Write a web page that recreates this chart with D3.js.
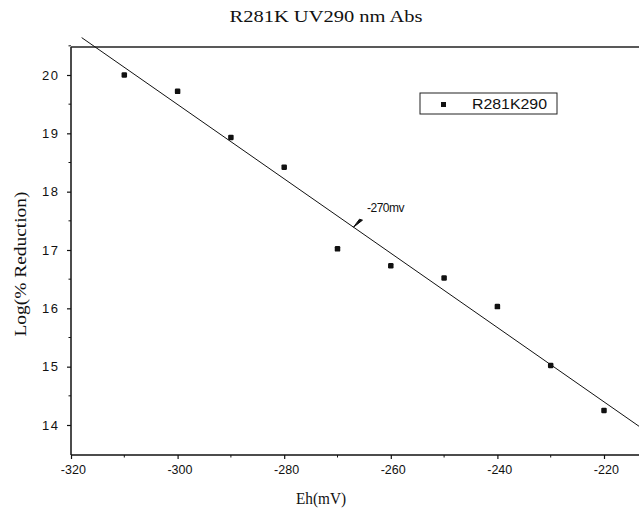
<!DOCTYPE html>
<html><head><meta charset="utf-8">
<script src="https://cdn.jsdelivr.net/npm/d3@7"></script>
<style>html,body{margin:0;padding:0;background:#fff;overflow:hidden}</style>
</head><body>
<svg id="c" width="639" height="515"></svg>
<script>
const ehValues = [-310, -300, -290, -280, -270, -260, -250, -240, -230, -220];
const logReduction = [20.0, 19.72, 18.93, 18.42, 17.02, 16.73, 16.52, 16.03, 15.02, 14.25];
const xTicks = [-320, -300, -280, -260, -240, -220];
const yTicks = [14, 15, 16, 17, 18, 19, 20];
const seriesName = "R281K290";
const annotationText = "-270mv";
const annotationX = -270;

const svg = d3.select("#c");
const x = d3.scaleLinear().domain([-320, -220]).range([71, 604]);
const y = d3.scaleLinear().domain([14, 20]).range([425, 75]);
const xMin = -320, xMax = x.invert(639);
const yMin = y.invert(455), yMax = y.invert(47);
const sans = "Liberation Sans, Arial, sans-serif";
const serif = "Liberation Serif, Times New Roman, serif";

const ink = "#111";
// axes
const xAxis = d3.axisBottom(x).tickValues(xTicks).tickSize(4).tickFormat(d => String(d));
const gx = svg.append("g").attr("transform", `translate(0,${y(yMin)})`).call(xAxis);
gx.select(".domain").remove();
gx.append("line").attr("x1", x(xMin)).attr("x2", 639).attr("y1", 0).attr("y2", 0).attr("stroke", ink).attr("stroke-width", 1.5);
gx.selectAll(".tick line").attr("stroke", ink).attr("stroke-width", 1.2);
gx.selectAll(".tick text").attr("fill", ink).attr("font-family", sans).attr("font-size", 12.5).attr("dy", "0.95em").attr("dx", "0.15em");
// minor x ticks
svg.append("g").selectAll("line").data(d3.range(-310, -213, 20)).join("line")
  .attr("x1", d => x(d)).attr("x2", d => x(d)).attr("y1", y(yMin)).attr("y2", y(yMin) + 2.5)
  .attr("stroke", ink).attr("stroke-width", 1);

const yAxis = d3.axisLeft(y).tickValues(yTicks).tickSize(4).tickFormat(d => String(d));
const gy = svg.append("g").attr("transform", `translate(${x(xMin)},0)`).call(yAxis);
gy.select(".domain").remove();
gy.append("line").attr("x1", 0).attr("x2", 0).attr("y1", y(yMax)).attr("y2", y(yMin)).attr("stroke", ink).attr("stroke-width", 1.5);
gy.selectAll(".tick line").attr("stroke", ink).attr("stroke-width", 1.2);
gy.selectAll(".tick text").attr("fill", ink).attr("font-family", sans).attr("font-size", 13)
  .attr("letter-spacing", 1.5).attr("dx", "-0.35em");
svg.append("g").selectAll("line").data(d3.range(14.5, 20.6, 1)).join("line")
  .attr("x1", x(xMin) - 2.5).attr("x2", x(xMin)).attr("y1", d => y(d)).attr("y2", d => y(d))
  .attr("stroke", ink).attr("stroke-width", 1);

// top frame line
svg.append("line").attr("x1", x(xMin)).attr("x2", 639).attr("y1", y(yMax)).attr("y2", y(yMax))
  .attr("stroke", "#222").attr("stroke-width", 1.3);

// linear fit
const mx = d3.mean(ehValues), my = d3.mean(logReduction);
const sxy = d3.sum(ehValues, (v, i) => (v - mx) * (logReduction[i] - my));
const sxx = d3.sum(ehValues, v => (v - mx) * (v - mx));
const slope = sxy / sxx, icpt = my - slope * mx;
const fitX = [-318, xMax];
svg.append("path").datum(fitX)
  .attr("d", d3.line().x(d => x(d)).y(d => y(icpt + slope * d)))
  .attr("stroke", ink).attr("stroke-width", 1).attr("fill", "none");

// points
svg.append("g").selectAll("rect").data(ehValues).join("rect")
  .attr("x", d => x(d) - 2.75).attr("y", (d, i) => y(logReduction[i]) - 2.75)
  .attr("width", 5.5).attr("height", 5.5).attr("rx", 1.2).attr("fill", ink);

// annotation
const ax = x(annotationX + 3), ay = y(icpt + slope * (annotationX + 3));
svg.append("path")
  .attr("d", `M${ax},${ay} l9,-7 l-3,-1 z`)
  .attr("fill", ink).attr("stroke", ink).attr("stroke-width", 1);
svg.append("text").attr("x", 367).attr("y", 212).text(annotationText)
  .attr("font-family", sans).attr("font-size", 12).attr("letter-spacing", -0.5).attr("fill", ink);

// legend
svg.append("rect").attr("x", 420).attr("y", 93).attr("width", 137).attr("height", 21)
  .attr("fill", "none").attr("stroke", "#222").attr("stroke-width", 1);
svg.append("rect").attr("x", 441).attr("y", 102).attr("width", 5).attr("height", 5).attr("fill", ink);
svg.append("text").attr("x", 472).attr("y", 108.5).text(seriesName)
  .attr("textLength", 75).attr("lengthAdjust", "spacingAndGlyphs")
  .attr("font-family", sans).attr("font-size", 14).attr("fill", ink);

// titles
svg.append("text").attr("x", 326).attr("y", 22).attr("text-anchor", "middle").text("R281K UV290 nm Abs")
  .attr("textLength", 193).attr("lengthAdjust", "spacingAndGlyphs")
  .attr("font-family", serif).attr("font-size", 16).attr("fill", ink);
svg.append("text").attr("x", 321).attr("y", 504).attr("text-anchor", "middle").text("Eh(mV)")
  .attr("textLength", 50).attr("lengthAdjust", "spacingAndGlyphs")
  .attr("font-family", serif).attr("font-size", 17).attr("fill", ink);
svg.append("text").attr("transform", "translate(26,264) rotate(-90)").attr("text-anchor", "middle").text("Log(% Reduction)")
  .attr("textLength", 145).attr("lengthAdjust", "spacingAndGlyphs")
  .attr("font-family", serif).attr("font-size", 16).attr("fill", ink);
</script>
</body></html>
